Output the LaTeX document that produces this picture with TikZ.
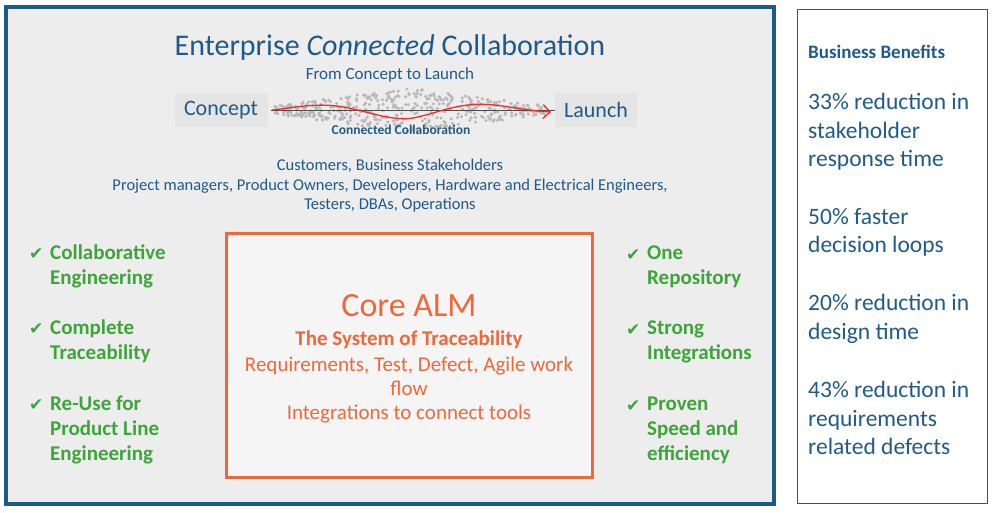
\documentclass[tikz,border=0pt]{standalone}
\usepackage{fontspec}
\setmainfont{Carlito}
\newfontfamily\symfont{DejaVu Sans}
\usetikzlibrary{arrows.meta,shadows}
\definecolor{ebblue}{HTML}{1F5A8A}
\definecolor{frameblue}{HTML}{1D5A86}
\definecolor{coral}{HTML}{F0683A}
\definecolor{leaf}{HTML}{3DA53A}
\newcommand{\fs}[1]{\fontsize{#1}{#1}\selectfont}
\newcommand{\tick}{{\symfont\fs{17}\char"2714}}
\begin{document}
\begin{tikzpicture}[x=1pt,y=-1pt]

\tikzset{plain/.style = {text=ebblue,inner sep=0pt}}
\tikzset{tagbox/.style = {fill=black!10,minimum width=#1,minimum height=34pt,text=ebblue,font=\fs{22}}}
\tikzset{check/.style = {text=leaf,font=\fs{21}\bfseries,anchor=west,inner sep=0pt}}
\tikzset{benefit/.style = {text=ebblue,font=\fs{23.5},anchor=west,inner sep=0pt}}
\tikzset{core/.style = {text=coral,inner sep=0pt}}

\useasboundingbox (0,0) rectangle (994,512);
%frames
\draw[frameblue,line width=4pt,fill=black!7,drop shadow={opacity=0.4}] (6,7) rectangle (774,504);
\draw[ebblue,line width=1pt] (797,9) rectangle (987,503);

\node[plain,font=\fs{30}] (title) at (390,47) {Enterprise \textit{Connected} Collaboration};
\node[plain,font=\fs{17}] (sub) at (390,75) {From Concept to Launch};
\node[tagbox=93pt] (concept) at (221,110) {Concept};
\node[tagbox=82pt] (launch) at (596,110) {Launch};

%cloud of dots
\pgfmathsetseed{7}
\foreach \i in {1,...,450}{
  \pgfmathsetmacro{\px}{275+rnd*270}
  \pgfmathsetmacro{\py}{110+(rnd-0.5)*44*(1-abs(\px-410)/170)}
  \fill[black!28] (\px,\py) circle (1.7pt);
}
\draw[black!70,line width=1pt] (concept.east) ++(3,0) -- (launch.west);
\draw[red!85,line width=1.3pt,-{Straight Barb[length=7pt]}]
  plot[domain=272:551,samples=120,smooth] (\x,{110-9*sin((\x-272)*2.1)*(1-abs(\x-410)/200)});
\node[plain,font=\fs{13.5}\bfseries] (cc) at (401,130) {Connected Collaboration};

\node[plain,font=\fs{16.5},align=center] (people) at (390,186)
  {Customers, Business Stakeholders\\[3pt]Project managers, Product Owners, Developers, Hardware and Electrical Engineers,\\[3pt]Testers, DBAs, Operations};

%core box
\draw[coral,line width=3pt,fill=black!4,drop shadow={opacity=0.35}] (226,233) rectangle (592,477);
\node[core,font=\fs{34}] (alm) at (409,306) {Core ALM};
\node[core,font=\fs{21}\bfseries] (sys) at (409,340) {The System of Traceability};
\node[core,font=\fs{21},align=center] (flow) at (409,390)
  {Requirements, Test, Defect, Agile work\\[3pt]flow\\[3pt]Integrations to connect tools};

%left list
\node[check] (l1) at (29,254) {\tick};
\node[check,align=left,anchor=north west] at (50,245) {Collaborative\\[4pt]Engineering};
\node[check] (l2) at (29,329) {\tick};
\node[check,align=left,anchor=north west] at (50,320) {Complete\\[4pt]Traceability};
\node[check] (l3) at (29,405) {\tick};
\node[check,align=left,anchor=north west] at (50,396) {Re-Use for\\[4pt]Product Line\\[4pt]Engineering};

%right list
\node[check] (r1) at (626,255) {\tick};
\node[check,align=left,anchor=north west] at (647,246) {One\\[4pt]Repository};
\node[check] (r2) at (626,330) {\tick};
\node[check,align=left,anchor=north west] at (647,321) {Strong\\[4pt]Integrations};
\node[check] (r3) at (626,406) {\tick};
\node[check,align=left,anchor=north west] at (647,397) {Proven\\[4pt]Speed and\\[4pt]efficiency};

%benefits
\node[benefit,font=\fs{19}\bfseries] (bb) at (808,52) {Business Benefits};
\node[benefit,align=left,anchor=north west] at (808,93) {33\% reduction in\\[5pt]stakeholder\\[5pt]response time};
\node[benefit,align=left,anchor=north west] at (808,208) {50\% faster\\[5pt]decision loops};
\node[benefit,align=left,anchor=north west] at (808,294) {20\% reduction in\\[5pt]design time};
\node[benefit,align=left,anchor=north west] at (808,381) {43\% reduction in\\[5pt]requirements\\[5pt]related defects};
\end{tikzpicture}
\end{document}
